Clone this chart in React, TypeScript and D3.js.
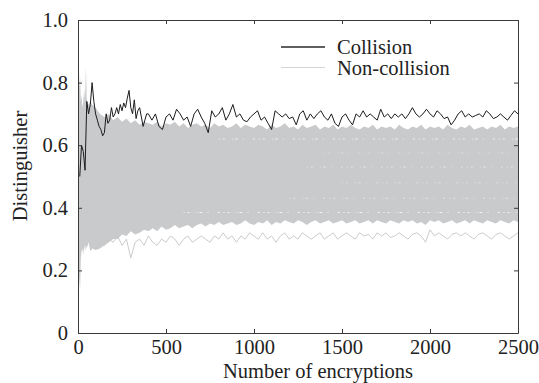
import { useEffect, useRef } from "react";
import * as d3 from "d3";

// collision distinguisher, n = 10..400 step 10
const collisionEarly = [
  0.50, 0.60, 0.58, 0.52, 0.74, 0.70, 0.73, 0.80, 0.74, 0.70,
  0.68, 0.66, 0.65, 0.63, 0.64, 0.70, 0.67, 0.68, 0.72, 0.69,
  0.70, 0.72, 0.70, 0.73, 0.71, 0.735, 0.72, 0.75, 0.775, 0.72,
  0.70, 0.745, 0.685, 0.71, 0.72, 0.69, 0.66, 0.68, 0.70, 0.70,
];
// n = 420..2500 step 20
const collisionLate = [
  0.68, 0.70, 0.66, 0.65, 0.69, 0.70, 0.68, 0.715, 0.70, 0.68,
  0.69, 0.66, 0.70, 0.715, 0.69, 0.67, 0.64, 0.71, 0.69, 0.70,
  0.72, 0.68, 0.70, 0.73, 0.69, 0.70, 0.68, 0.675, 0.69, 0.70,
  0.71, 0.68, 0.69, 0.67, 0.65, 0.71, 0.70, 0.69, 0.70, 0.685,
  0.69, 0.665, 0.70, 0.71, 0.68, 0.70, 0.685, 0.70, 0.71, 0.69,
  0.68, 0.70, 0.67, 0.66, 0.69, 0.70, 0.68, 0.665, 0.70, 0.69,
  0.71, 0.69, 0.70, 0.69, 0.68, 0.715, 0.69, 0.70, 0.685, 0.70,
  0.69, 0.70, 0.685, 0.70, 0.72, 0.70, 0.69, 0.70, 0.715, 0.70,
  0.69, 0.71, 0.70, 0.685, 0.69, 0.665, 0.68, 0.70, 0.71, 0.69,
  0.70, 0.69, 0.695, 0.70, 0.69, 0.71, 0.70, 0.685, 0.69, 0.70,
  0.69, 0.68, 0.695, 0.71, 0.70,
];

// envelope of the non-collision runs: first part irregular, then n = 225..2500 step 25
const bandEarlyN = [0, 4, 8, 12, 16, 20, 25, 30, 35, 40, 45, 50, 60, 70, 80, 100, 125, 150, 175, 200];
const bandEarlyHi = [0.55, 0.90, 0.78, 0.82, 0.74, 0.76, 0.72, 0.74, 0.78, 0.74, 0.85, 0.74, 0.73, 0.74, 0.73, 0.72, 0.70, 0.69, 0.70, 0.68];
const bandEarlyLo = [0.45, 0.10, 0.18, 0.14, 0.24, 0.26, 0.27, 0.25, 0.28, 0.26, 0.28, 0.27, 0.29, 0.26, 0.27, 0.265, 0.27, 0.28, 0.29, 0.30];
const bandHi = [
  0.69, 0.675, 0.685, 0.67, 0.68, 0.665, 0.675, 0.67,
  0.665, 0.675, 0.66, 0.67, 0.665, 0.675, 0.66, 0.67,
  0.655, 0.665, 0.67, 0.66, 0.665, 0.655, 0.67, 0.66,
  0.665, 0.655, 0.66, 0.67, 0.655, 0.665, 0.66, 0.655,
  0.665, 0.66, 0.65, 0.665, 0.655, 0.66, 0.67, 0.655,
  0.66, 0.65, 0.665, 0.655, 0.66, 0.665, 0.65, 0.66,
  0.655, 0.665, 0.65, 0.66, 0.655, 0.665, 0.655, 0.65,
  0.66, 0.655, 0.665, 0.65, 0.66, 0.655, 0.66, 0.65,
  0.665, 0.655, 0.65, 0.66, 0.655, 0.665, 0.65, 0.66,
  0.655, 0.66, 0.65, 0.665, 0.655, 0.65, 0.66, 0.655,
  0.665, 0.65, 0.655, 0.66, 0.65, 0.66, 0.655, 0.665,
  0.65, 0.66, 0.655, 0.66,
];
const bandLo = [
  0.30, 0.315, 0.31, 0.325, 0.315, 0.32, 0.33, 0.325,
  0.335, 0.325, 0.34, 0.33, 0.335, 0.345, 0.335, 0.34,
  0.345, 0.335, 0.345, 0.35, 0.34, 0.35, 0.345, 0.355,
  0.345, 0.35, 0.355, 0.345, 0.35, 0.36, 0.35, 0.345,
  0.355, 0.35, 0.36, 0.345, 0.355, 0.35, 0.36, 0.355,
  0.35, 0.36, 0.355, 0.345, 0.355, 0.36, 0.35, 0.355,
  0.36, 0.35, 0.355, 0.36, 0.35, 0.355, 0.36, 0.35,
  0.355, 0.36, 0.35, 0.36, 0.355, 0.35, 0.36, 0.355,
  0.35, 0.36, 0.355, 0.36, 0.35, 0.355, 0.345, 0.36,
  0.355, 0.36, 0.35, 0.355, 0.36, 0.35, 0.355, 0.36,
  0.35, 0.36, 0.355, 0.35, 0.36, 0.355, 0.35, 0.36,
  0.355, 0.35, 0.36, 0.355,
];

// lowest single non-collision run, n = 100..2500 step 25
const lowestRun = [
  0.27, 0.29, 0.28, 0.30, 0.29, 0.31, 0.28, 0.30,
  0.24, 0.29, 0.30, 0.28, 0.31, 0.29, 0.28, 0.30,
  0.29, 0.31, 0.30, 0.28, 0.30, 0.31, 0.29, 0.30,
  0.31, 0.30, 0.29, 0.31, 0.30, 0.32, 0.30, 0.31,
  0.29, 0.31, 0.30, 0.32, 0.31, 0.30, 0.32, 0.30,
  0.31, 0.29, 0.31, 0.32, 0.30, 0.31, 0.30, 0.32,
  0.31, 0.30, 0.31, 0.32, 0.30, 0.31, 0.32, 0.30,
  0.31, 0.32, 0.31, 0.30, 0.32, 0.31, 0.315, 0.30,
  0.32, 0.31, 0.32, 0.305, 0.31, 0.32, 0.31, 0.30,
  0.315, 0.32, 0.31, 0.29, 0.33, 0.31, 0.32, 0.31,
  0.30, 0.315, 0.32, 0.31, 0.32, 0.31, 0.30, 0.315,
  0.32, 0.31, 0.30, 0.315, 0.32, 0.31, 0.30, 0.31,
  0.32,
];

// faint gaps between runs inside the gray mass
const gapLevels = [0.62, 0.575, 0.53, 0.48, 0.43, 0.385];
const gapStart = [800, 1400, 1300, 1500, 1200, 600];
const gapOpacity = [0.7, 0.35, 0.35, 0.35, 0.4, 0.75];

const xTicks = [0, 500, 1000, 1500, 2000, 2500];
const yTicks = [0, 0.2, 0.4, 0.6, 0.8, 1.0];
const legendLabels = ["Collision", "Non-collision"];

export default function App() {
  const ref = useRef<SVGSVGElement>(null);

  useEffect(() => {
    if (!ref.current) return;
    const W = 539, H = 383;
    const ML = 78, MR = 21, MT = 20, MB = 50;
    const FONT = "Liberation Serif";
    const FS = 20.5;
    const AX = "#3a3a3a";

    const svg = d3.select(ref.current).attr("width", W).attr("height", H)
      .style("font-family", FONT);
    svg.selectAll("*").remove();

    const x = d3.scaleLinear().domain([0, 2500]).range([ML, W - MR]);
    const y = d3.scaleLinear().domain([0, 1]).range([H - MB, MT]);

    // gray mass of non-collision runs
    const band = [
      ...bandEarlyN.map((n, i) => ({ n, hi: bandEarlyHi[i], lo: bandEarlyLo[i] })),
      ...bandHi.map((hi, i) => ({ n: 225 + 25 * i, hi, lo: bandLo[i] })),
    ];
    svg.append("path")
      .attr("d", d3.area<{ n: number; hi: number; lo: number }>()
        .x(d => x(d.n)).y0(d => y(d.lo)).y1(d => y(d.hi))(band) ?? "")
      .attr("fill", "#c9cacc");

    const line = d3.line<[number, number]>().x(d => x(d[0])).y(d => y(d[1]));

    const low: [number, number][] = lowestRun.map((v, i) => [100 + 25 * i, v]);
    svg.append("path").attr("d", line(low) ?? "")
      .attr("fill", "none").attr("stroke", "#c4c5c7").attr("stroke-width", 0.9);

    gapLevels.forEach((lv, i) => {
      svg.append("line")
        .attr("x1", x(gapStart[i])).attr("x2", x(2500))
        .attr("y1", y(lv)).attr("y2", y(lv))
        .attr("stroke", "#ffffff").attr("stroke-opacity", gapOpacity[i])
        .attr("stroke-width", 1.1)
        .attr("stroke-dasharray", "1,3,2,7,1,2,3,5,1,9,2,4");
    });

    // collision run
    const coll: [number, number][] = [
      ...collisionEarly.map((v, i) => [10 + 10 * i, v] as [number, number]),
      ...collisionLate.map((v, i) => [420 + 20 * i, v] as [number, number]),
    ];
    svg.append("path").attr("d", line(coll) ?? "")
      .attr("fill", "none").attr("stroke", "#1c1c1c").attr("stroke-width", 1)
      .attr("stroke-linejoin", "round");

    // box with inward ticks
    const style = (g: d3.Selection<SVGGElement, unknown, null, undefined>) => {
      g.attr("font-family", null).attr("font-size", null);
      g.select(".domain").attr("stroke", AX);
      g.selectAll("line").attr("stroke", AX);
      g.selectAll("text").style("font-size", `${FS}px`).style("font-family", FONT).attr("fill", "#222");
    };
    svg.append("g").attr("transform", `translate(0,${H - MB})`)
      .call(d3.axisBottom(x).tickValues(xTicks).tickSize(-4).tickSizeOuter(0).tickPadding(6)
        .tickFormat(d => String(d)))
      .call(style);
    svg.append("g").attr("transform", `translate(0,${MT})`)
      .call(d3.axisTop(x).tickValues(xTicks).tickSize(-4).tickSizeOuter(0).tickFormat(() => ""))
      .call(style);
    svg.append("g").attr("transform", `translate(${ML},0)`)
      .call(d3.axisLeft(y).tickValues(yTicks).tickSize(-4).tickSizeOuter(0).tickPadding(10)
        .tickFormat(d => (+d === 0 ? "0" : d3.format(".1f")(+d))))
      .call(style);
    svg.append("g").attr("transform", `translate(${W - MR},0)`)
      .call(d3.axisRight(y).tickValues(yTicks).tickSize(-4).tickSizeOuter(0).tickFormat(() => ""))
      .call(style);

    // axis titles
    svg.append("text").attr("x", 318).attr("y", 378)
      .attr("text-anchor", "middle").style("font-size", `${FS}px`)
      .attr("fill", "#222").text("Number of encryptions");
    svg.append("text").attr("transform", "rotate(-90)")
      .attr("x", -166).attr("y", 26.5)
      .attr("text-anchor", "middle").style("font-size", `${FS}px`)
      .attr("fill", "#222").text("Distinguisher");

    // legend
    const legColors = ["#2a2a2a", "#d9d3d2"];
    const legWidths = [1.5, 1];
    legendLabels.forEach((lab, i) => {
      const ly = 47 + i * 20.5;
      svg.append("line").attr("x1", 281).attr("x2", 325).attr("y1", ly).attr("y2", ly)
        .attr("stroke", legColors[i]).attr("stroke-width", legWidths[i]);
      svg.append("text").attr("x", 337).attr("y", ly + 7)
        .style("font-size", `${FS}px`).attr("fill", "#222").text(lab);
    });
  }, []);

  return (
    <div style={{ position: "absolute", left: 0, top: 0 }}>
      <svg ref={ref} style={{ display: "block" }} />
    </div>
  );
}
